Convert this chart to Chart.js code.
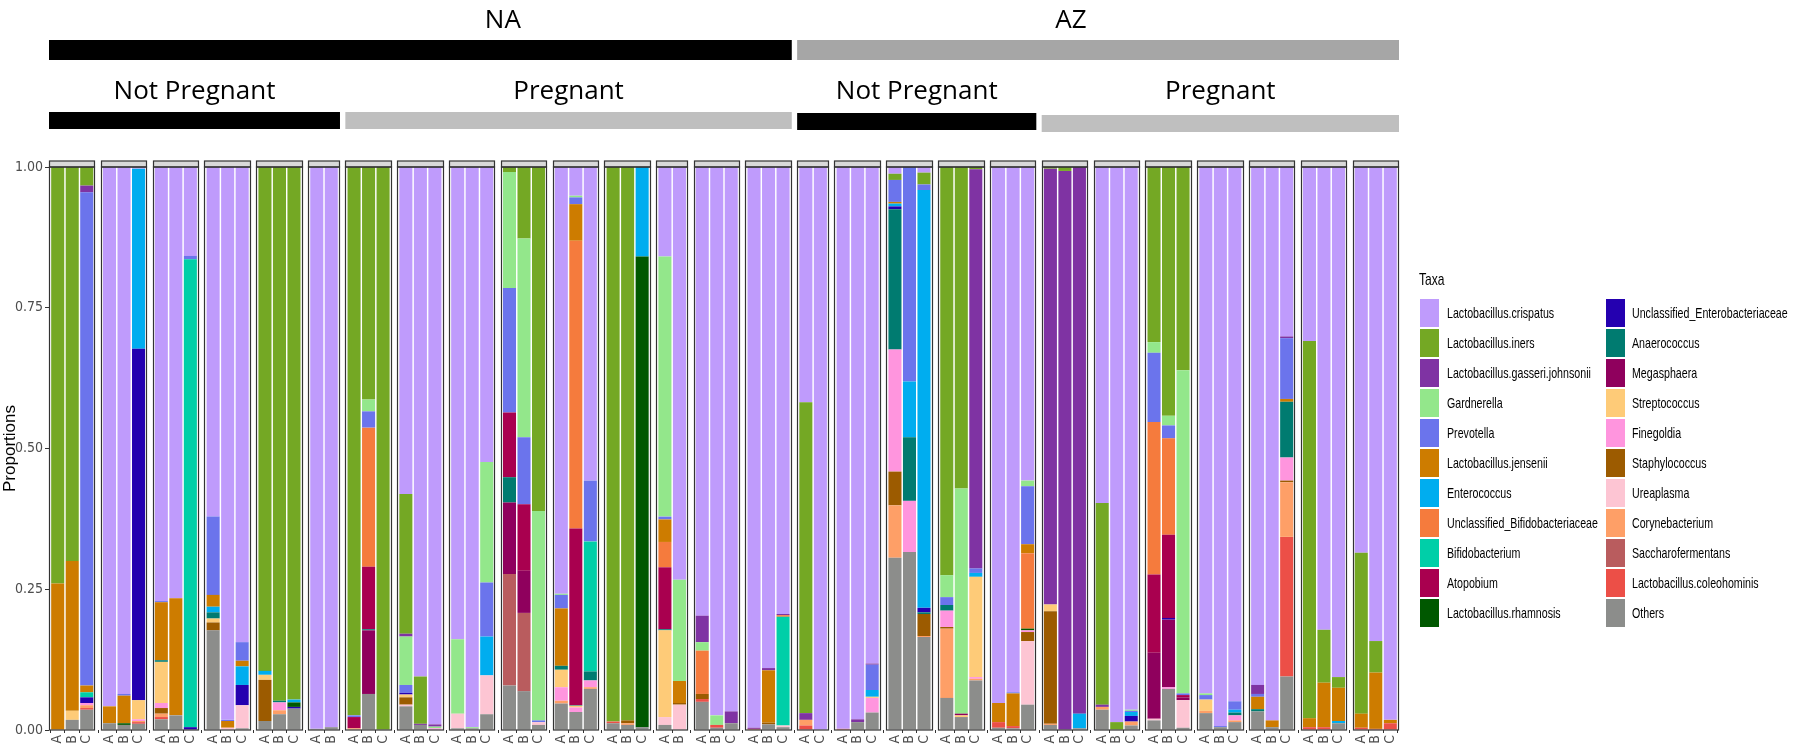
<!DOCTYPE html>
<html lang="en">
<head>
    <meta charset="UTF-8">
    <title>Taxa proportions by participant</title>
    <script src="https://cdn.jsdelivr.net/npm/chart.js"></script>
    <style>
        body {
            margin: 0;
            background: #fff;
        }
        #wrap {
            position: relative;
            width: 1800px;
            height: 755px;
        }
        #legend {
            position: absolute;
            left: 0;
            top: 0;
            font-family: "Liberation Sans", Arial, sans-serif;
            color: #000;
        }
        .ttl, .lab {
            position: absolute;
            white-space: nowrap;
            transform-origin: left center;
            transform: scaleX(0.71);
        }
        .ttl { font-size: 17px; line-height: 20px; }
        .lab { font-size: 15px; line-height: 28px; }
        .key { position: absolute; width: 19px; height: 28px; }
    </style>
</head>
<body>
<div id="wrap">
    <canvas id="chart" width="1800" height="755"></canvas>
    <div id="legend"></div>
</div>
<script>
    // facets: one entry per participant, the letters are the visits
    var panelLabels = [
        ['A','B','C'], ['A','B','C'], ['A','B','C'], ['A','B','C'], ['A','B','C'], ['A','B'],
        ['A','B','C'], ['A','B','C'], ['A','B','C'], ['A','B','C'], ['A','B','C'], ['A','B','C'],
        ['A','B'], ['A','B','C'], ['A','B','C'],
        ['A','C'], ['A','B','C'], ['A','B','C'], ['A','B','C'], ['A','B','C'],
        ['A','B','C'], ['A','B','C'], ['A','B','C'], ['A','B','C'], ['A','B','C'], ['A','B','C'], ['A','B','C']
    ];

    var siteNames = ['NA', 'AZ'];
    var sitePanels = [[0, 14], [15, 26]];
    var siteColors = ['#000000', '#A6A6A6'];
    var siteLabelAt = [0.611, 0.455];

    var statusNames = ['Not Pregnant', 'Pregnant', 'Not Pregnant', 'Pregnant'];
    var statusPanels = [[0, 5], [6, 14], [15, 19], [20, 26]];
    var statusColors = ['#000000', '#BFBFBF', '#000000', '#BFBFBF'];

    var yTicks = [0, 0.25, 0.5, 0.75, 1];

    // legend order (top of the stack first)
    var taxa = [
        'Lactobacillus.crispatus', 'Lactobacillus.iners', 'Lactobacillus.gasseri.johnsonii', 'Gardnerella',
        'Prevotella', 'Lactobacillus.jensenii', 'Enterococcus', 'Unclassified_Bifidobacteriaceae',
        'Bifidobacterium', 'Atopobium', 'Lactobacillus.rhamnosis', 'Unclassified_Enterobacteriaceae',
        'Anaerococcus', 'Megasphaera', 'Streptococcus', 'Finegoldia', 'Staphylococcus', 'Ureaplasma',
        'Corynebacterium', 'Saccharofermentans', 'Lactobacillus.coleohominis', 'Others'
    ];
    var colors = [
        '#BF9BFC', '#74A824', '#7F33A3', '#93E78B', '#6B74EC', '#CD7C00', '#00ADEF', '#F57B3D',
        '#00CFA8', '#A9004F', '#005800', '#2400B0', '#007B70', '#8F005D', '#FECB78', '#FF95DE',
        '#9C5B00', '#FDC5D3', '#FE9F67', '#B95C5E', '#EC4F47', '#8C8D8B'
    ];

    var crispatus = [[0,0,0],[.958,.936,.003],[.771,.766,.158],[.621,.982,.844],[0,0,0],[.998,.995],[0,0,0],[.581,.905,.99],[.839,.995,.524],[0,0,0],[.758,.051,.557],[0,0,0],[.159,.733],[.797,.974,.967],[.996,.89,.794],[.418,1],[.998,.981,.882],[.012,0,.01],[0,0,0],[.952,.933,.557],[0,0,0],[.597,.986,.964],[0,0,0],[.935,.993,.949],[.92,.983,.301],[.309,.822,.906],[.685,.842,.982]];
    var iners = [[.74,.70,.033],[0,0,0],[0,0,0],[0,0,0],[.895,.948,.946],[0,0],[.974,.413,1],[.248,.084,0],[0,0,0],[.009,.127,.611],[0,0,0],[.985,.983,0],[0,0],[0,0,0],[0,0,0],[.552,0],[0,0,0],[.011,0,.021],[.725,.571,.004],[0,0,0],[.003,.007,0],[.358,.014,0],[.311,.442,.361],[0,0,0],[0,0,0],[.67,.094,.019],[.286,.056,0]];
    var gasseri = [[0,0,.012],[0,0,0],[0,0,0],[0,0,0],[0,0,0],[0,0],[0,0,0],[.005,.002,.004],[0,0,0],[0,0,0],[0,0,0],[0,0,0],[0,0],[.047,0,.021],[.002,.004,.002],[.012,0],[0,.005,.002],[0,0,0],[0,0,.709],[0,0,0],[.774,.993,.971],[.004,0,0],[0,0,0],[0,0,0],[.016,0,.003],[0,0,0],[0,0,0]];
    var gardnerella = [[0,0,0],[0,0,0],[0,0,0],[0,0,0],[0,0,0],[0,0],[0,.021,0],[.086,0,.003],[.132,.002,.214],[.206,.353,.372],[.002,.003,0],[0,0,0],[.462,.18],[.015,.017,0],[0,0,0],[0,0],[0,0,0],[0,0,0],[.039,.4,0],[0,0,.01],[0,0,0],[0,0,.002],[.019,.017,.574],[.003,0,0],[0,0,0],[0,0,0],[0,0,0]];
    var prevotella = [[0,0,.876],[0,.003,0],[.002,0,.006],[.139,.002,.033],[0,0,0],[0,0],[.003,.029,0],[.014,0,0],[0,0,.096],[.221,.119,.003],[.024,.012,.108],[0,0,0],[.005,0],[0,0,0],[0,0,0],[0,0],[0,0,.045],[.039,.381,.01],[.014,0,.008],[0,.002,.103],[0,0,0],[0,0,.002],[.123,.023,.003],[.008,.002,.015],[.005,0,.108],[0,0,0],[0,0,0]];
    var jensenii = [[.26,.266,.012],[.03,.049,0],[.103,.208,0],[.021,.012,.01],[0,0,0],[0,0],[0,0,0],[0,0,0],[0,0,0],[0,0,0],[.102,.065,0],[0,0,0],[.04,.039],[0,0,0],[0,.093,0],[0,0],[0,0,0],[.003,0,0],[0,0,0],[.034,.058,.016],[0,0,0],[0,0,0],[0,0,0],[0,0,0],[.022,.012,.005],[.016,.079,.059],[.025,.1,.006]];
    var enterococcus = [[0,0,0],[0,0,.32],[0,0,0],[.01,0,.033],[.007,0,.005],[0,0],[0,0,0],[0,0,0],[0,0,.069],[0,0,0],[0,0,0],[0,0,.159],[0,0],[0,0,0],[0,0,0],[0,0],[0,0,.012],[.005,.099,.742],[0,0,.007],[0,0,0],[0,0,.026],[0,0,.007],[0,0,0],[0,0,.005],[0,0,0],[0,0,.004],[0,0,0]];
    var uncBifido = [[0,0,0],[0,0,0],[0,0,0],[0,0,0],[0,0,0],[0,0],[0,.247,0],[0,0,0],[0,0,0],[0,0,0],[0,.511,0],[0,0,0],[.045,0],[.077,0,0],[0,0,.003],[0,0],[0,0,0],[0,0,0],[0,0,0],[0,0,.134],[0,0,0],[0,0,0],[.271,.171,0],[0,0,0],[0,0,0],[0,0,0],[0,0,0]];
    var bifido = [[0,0,.009],[0,0,0],[0,0,.831],[0,0,0],[0,0,0],[0,0],[0,0,0],[0,0,0],[0,0,0],[0,0,0],[0,0,.231],[0,0,0],[0,0],[0,0,0],[0,0,.193],[0,0],[0,0,0],[0,0,0],[0,0,0],[0,0,0],[0,0,0],[0,0,0],[0,0,0],[0,0,0],[0,0,0],[0,0,0],[0,0,0]];
    var atopobium = [[0,0,0],[0,0,0],[0,0,0],[0,0,0],[0,0,0],[0,0],[.02,.111,0],[0,0,0],[0,0,0],[.115,.118,0],[0,.314,0],[0,0,0],[.11,0],[0,0,0],[0,0,0],[0,0],[0,0,0],[0,0,0],[0,0,0],[0,0,0],[0,0,0],[0,0,0],[.139,.148,.004],[0,0,0],[0,0,0],[0,0,0],[0,0,0]];
    var rhamnosis = [[0,0,0],[0,.003,0],[0,0,0],[0,0,0],[0,0,.008],[0,0],[0,0,0],[0,0,0],[0,0,0],[0,0,0],[0,0,0],[0,0,.836],[0,0],[0,0,0],[0,0,0],[0,0],[0,0,0],[0,0,0],[0,0,0],[0,0,.003],[0,0,0],[0,0,0],[0,0,0],[0,0,0],[0,0,0],[0,0,0],[0,0,0]];
    var uncEntero = [[0,0,.01],[0,0,.624],[0,0,.005],[0,0,.036],[0,0,.003],[0,0],[0,0,0],[.003,0,0],[0,0,0],[0,0,0],[0,0,0],[0,0,0],[0,0],[0,0,0],[0,0,0],[0,0],[0,0,0],[.005,0,.008],[0,0,0],[0,0,0],[0,0,0],[0,0,.01],[0,.003,0],[0,0,0],[0,0,0],[0,0,0],[0,0,0]];
    var anaerococcus = [[0,0,0],[0,0,0],[.003,0,0],[.011,0,0],[0,.003,0],[0,0],[0,.002,0],[0,0,0],[0,0,0],[.045,0,0],[.007,.001,.016],[0,0,0],[.002,0],[0,0,0],[0,0,0],[0,0],[0,0,0],[.249,.113,.003],[.01,0,0],[0,0,0],[0,0,0],[0,0,0],[0,0,0],[0,0,.005],[.004,0,.099],[0,0,0],[0,0,0]];
    var megasphaera = [[0,0,0],[0,0,0],[0,0,0],[0,0,0],[0,0,0],[0,0],[0,.113,0],[0,0,0],[0,0,0],[.127,.075,0],[0,0,0],[0,0,0],[0,0],[0,0,0],[0,0,0],[0,0],[0,0,0],[0,0,0],[0,.003,0],[0,0,0],[0,0,0],[0,0,0],[.117,.12,.005],[0,0,0],[0,0,0],[0,0,0],[0,0,0]];
    var streptococcus = [[0,.016,0],[0,0,.034],[.073,0,0],[.007,0,0],[.009,0,0],[0,0],[0,0,0],[.005,0,0],[0,0,0],[0,0,0],[.031,.003,0],[0,0,0],[.154,0],[0,0,0],[0,0,0],[0,0],[0,0,.002],[0,0,0],[0,.003,.178],[0,0,0],[.012,0,0],[0,0,0],[0,0,0],[.02,0,0],[0,0,0],[0,0,0],[0,0,0]];
    var finegoldia = [[0,0,.004],[0,0,.003],[.009,0,0],[0,0,0],[0,.014,0],[0,0],[0,0,0],[0,0,.003],[0,0,0],[0,0,0],[.024,.008,.012],[0,0,0],[0,0],[0,0,0],[0,0,0],[0,0],[0,0,.026],[.217,.091,0],[.029,0,.003],[0,0,.003],[0,0,0],[0,0,0],[0,.003,0],[0,0,.009],[0,0,.041],[0,0,0],[0,0,0]];
    var staphylococcus = [[0,0,0],[0,0,0],[.01,0,0],[.014,0,0],[.073,0,0],[0,0],[0,0,0],[.013,0,0],[0,0,0],[0,0,0],[0,0,0],[0,.005,0],[0,.003],[.009,0,0],[0,.003,0],[0,0],[0,0,0],[.06,0,.039],[.003,0,0],[0,0,.016],[.2,0,0],[0,0,0],[0,0,0],[0,0,0],[0,0,.003],[0,0,0],[0,0,0]];
    var ureaplasma = [[0,0,0],[0,0,0],[0,0,0],[0,.004,.041],[0,0,0],[0,0],[0,0,0],[.003,0,0],[.026,0,.069],[0,0,.005],[0,0,0],[0,0,0],[.014,.045],[0,0,0],[0,0,.003],[0,0],[0,0,0],[0,0,0],[0,0,0],[0,0,.113],[0,0,0],[0,0,0],[.003,0,.049],[0,0,0],[0,0,0],[0,0,0],[0,0,0]];
    var corynebacterium = [[0,0,.005],[0,0,.002],[.006,0,0],[0,0,0],[0,.007,0],[0,0],[.003,0,0],[0,0,0],[0,0,0],[0,0,0],[.005,0,.003],[0,.003,0],[0,0],[0,0,0],[0,0,0],[.01,0],[0,0,0],[.093,0,.002],[.123,0,.003],[0,0,0],[.002,0,0],[.005,0,.007],[0,0,0],[.004,0,.003],[0,0,.097],[0,0,0],[0,0,0]];
    var saccharofermentans = [[0,0,0],[0,0,0],[0,0,0],[0,0,0],[0,0,0],[0,0],[0,0,0],[0,0,0],[0,0,0],[.198,.139,0],[0,0,0],[0,0,0],[0,0],[0,0,0],[0,0,0],[0,0],[0,0,0],[0,0,0],[0,0,0],[0,0,0],[0,0,0],[0,0,0],[0,0,0],[0,0,0],[0,0,0],[0,0,0],[0,0,0]];
    var coleohominis = [[0,0,.003],[0,0,.003],[.004,0,0],[0,0,0],[0,0,0],[0,0],[0,0,0],[0,0,0],[0,0,0],[0,0,0],[0,0,0],[.003,0,0],[0,0],[.005,.005,0],[.002,0,0],[.008,0],[.002,0,0],[0,0,0],[0,0,0],[.01,.004,0],[0,0,0],[0,0,0],[0,0,0],[0,0,0],[0,0,.248],[.005,.005,0],[.004,.002,.012]];
    var others = [[0,.018,.036],[.012,.009,.011],[.019,.026,0],[.177,0,.003],[.016,.028,.038],[.002,.005],[0,.064,0],[.042,.009,0],[.003,.003,.028],[.079,.069,.009],[.047,.032,.073],[.012,.009,.005],[.009,0],[.05,.004,.012],[0,.01,.005],[0,0],[0,.014,.031],[.306,.316,.165],[.057,.023,.088],[.004,.003,.045],[.009,0,.003],[.036,0,.008],[.017,.073,.004],[.03,.005,.014],[.033,.005,.095],[0,0,.012],[0,0,0]];

    var series = [crispatus, iners, gasseri, gardnerella, prevotella, jensenii, enterococcus, uncBifido,
        bifido, atopobium, rhamnosis, uncEntero, anaerococcus, megasphaera, streptococcus, finegoldia,
        staphylococcus, ureaplasma, corynebacterium, saccharofermentans, coleohominis, others];

    // x positions: one unit per bar, ggplot-like 0.6 padding inside each panel, small gap between panels
    var pad = 0.6, gap = 0.37;
    var xPos = [], barLabels = [], panelSpans = [];
    var cursor = 0;
    panelLabels.forEach(function(p) {
        var start = cursor;
        p.forEach(function(l, k) {
            xPos.push(start + pad + k);
            barLabels.push(l);
        });
        var end = start + p.length - 1 + 2 * pad;
        panelSpans.push([start, end]);
        cursor = end + gap;
    });
    var xMax = cursor - gap;

    function hasFont(name) {
        var c = document.createElement('canvas').getContext('2d');
        var probe = 'abcdefghijklmnopqrstuvwxyz0123456789';
        c.font = '20px monospace';
        var w0 = c.measureText(probe).width;
        c.font = '20px "' + name + '", monospace';
        return c.measureText(probe).width !== w0;
    }
    var narrow = ['Liberation Sans Narrow', 'DejaVu Sans Condensed'].find(hasFont);
    var tickFamily = narrow ? '"' + narrow + '", "Liberation Sans", sans-serif' : '"Liberation Sans", sans-serif';
    var tickSize = narrow ? 14 : 12;

    var datasets = taxa.map(function(name, i) {
        var vals = series[i].flat();
        return {
            label: name,
            data: xPos.map(function(x, j) { return { x: x, y: vals[j] }; }),
            backgroundColor: colors[i],
            borderWidth: 0,
            stack: 'taxa',
            barPercentage: 0.9,
            categoryPercentage: 1
        };
    }).reverse();

    var facets = {
        id: 'facets',
        afterDatasetsDraw: function(chart) {
            var ctx = chart.ctx, a = chart.chartArea, x = chart.scales.x;
            function edge(i, side) { return x.getPixelForValue(panelSpans[i][side]); }
            ctx.save();
            // panel frames and empty strips
            panelSpans.forEach(function(s, i) {
                var l = Math.round(edge(i, 0)) + 0.5, r = Math.round(edge(i, 1)) - 0.5;
                ctx.fillStyle = '#D9D9D9';
                ctx.fillRect(l, a.top - 6, r - l, 6);
                ctx.strokeStyle = '#333333';
                ctx.lineWidth = 1.2;
                ctx.strokeRect(l, a.top - 6, r - l, 6);
                ctx.strokeRect(l, a.top, r - l, a.bottom - a.top);
            });
            // header annotations
            ctx.textAlign = 'center';
            ctx.textBaseline = 'middle';
            siteNames.forEach(function(name, g) {
                var l = edge(sitePanels[g][0], 0), r = edge(sitePanels[g][1], 1);
                ctx.fillStyle = siteColors[g];
                ctx.fillRect(l, 40, r - l, 20);
                ctx.fillStyle = '#000';
                ctx.font = '26px "Open Sans", sans-serif';
                ctx.fillText(name, l + (r - l) * siteLabelAt[g], 21);
            });
            statusNames.forEach(function(name, g) {
                var l = edge(statusPanels[g][0], 0), r = edge(statusPanels[g][1], 1);
                ctx.fillStyle = statusColors[g];
                ctx.fillRect(l, 112 + (g > 1 ? 1 + (g - 2) * 2 : 0), r - l, 17);
                ctx.fillStyle = '#000';
                ctx.font = '26px "Open Sans", sans-serif';
                ctx.fillText(name, (l + r) / 2, 92);
            });
            ctx.restore();
        }
    };

    new Chart(document.getElementById('chart'), {
        type: 'bar',
        data: { datasets: datasets },
        options: {
            responsive: false,
            animation: false,
            devicePixelRatio: 1,
            layout: { padding: { left: 0, right: 401, top: 167, bottom: 0 } },
            plugins: { legend: { display: false }, tooltip: { enabled: false } },
            scales: {
                x: {
                    type: 'linear',
                    min: 0,
                    max: xMax,
                    bounds: 'data',
                    offset: false,
                    afterBuildTicks: function(s) { s.ticks = xPos.map(function(v) { return { value: v }; }); },
                    afterFit: function(s) { s.height = 25; },
                    ticks: {
                        autoSkip: false,
                        minRotation: 90,
                        maxRotation: 90,
                        padding: 2,
                        color: '#4D4D4D',
                        font: { family: tickFamily, size: tickSize },
                        callback: function(v, i) { return barLabels[i]; }
                    },
                    grid: { drawOnChartArea: false, drawTicks: true, tickLength: 3, color: '#333333' },
                    border: { display: false }
                },
                y: {
                    min: 0,
                    max: 1,
                    afterBuildTicks: function(s) { s.ticks = yTicks.map(function(v) { return { value: v }; }); },
                    afterFit: function(s) { s.width = 49; },
                    ticks: {
                        padding: 2,
                        color: '#4D4D4D',
                        font: { family: tickFamily, size: tickSize },
                        callback: function(v) { return Number(v).toFixed(2); }
                    },
                    grid: { drawOnChartArea: false, drawTicks: true, tickLength: 4, color: '#333333' },
                    border: { display: false },
                    title: {
                        display: true,
                        text: 'Proportions',
                        color: '#000',
                        padding: 0,
                        font: { family: '"Liberation Sans", sans-serif', size: 17 }
                    }
                }
            }
        },
        plugins: [facets]
    });

    // legend: two columns of eleven
    var legend = document.getElementById('legend');
    var title = document.createElement('div');
    title.className = 'ttl';
    title.textContent = 'Taxa';
    title.style.left = '1419px';
    title.style.top = '270px';
    legend.appendChild(title);
    taxa.forEach(function(name, i) {
        var col = Math.floor(i / 11), row = i % 11;
        var key = document.createElement('div');
        key.className = 'key';
        key.style.background = colors[i];
        key.style.left = (1420 + col * 186) + 'px';
        key.style.top = (299 + row * 30) + 'px';
        legend.appendChild(key);
        var lab = document.createElement('div');
        lab.className = 'lab';
        lab.textContent = name;
        lab.style.left = (1447 + col * 185) + 'px';
        lab.style.top = (299 + row * 30) + 'px';
        legend.appendChild(lab);
    });
</script>
</body>
</html>
